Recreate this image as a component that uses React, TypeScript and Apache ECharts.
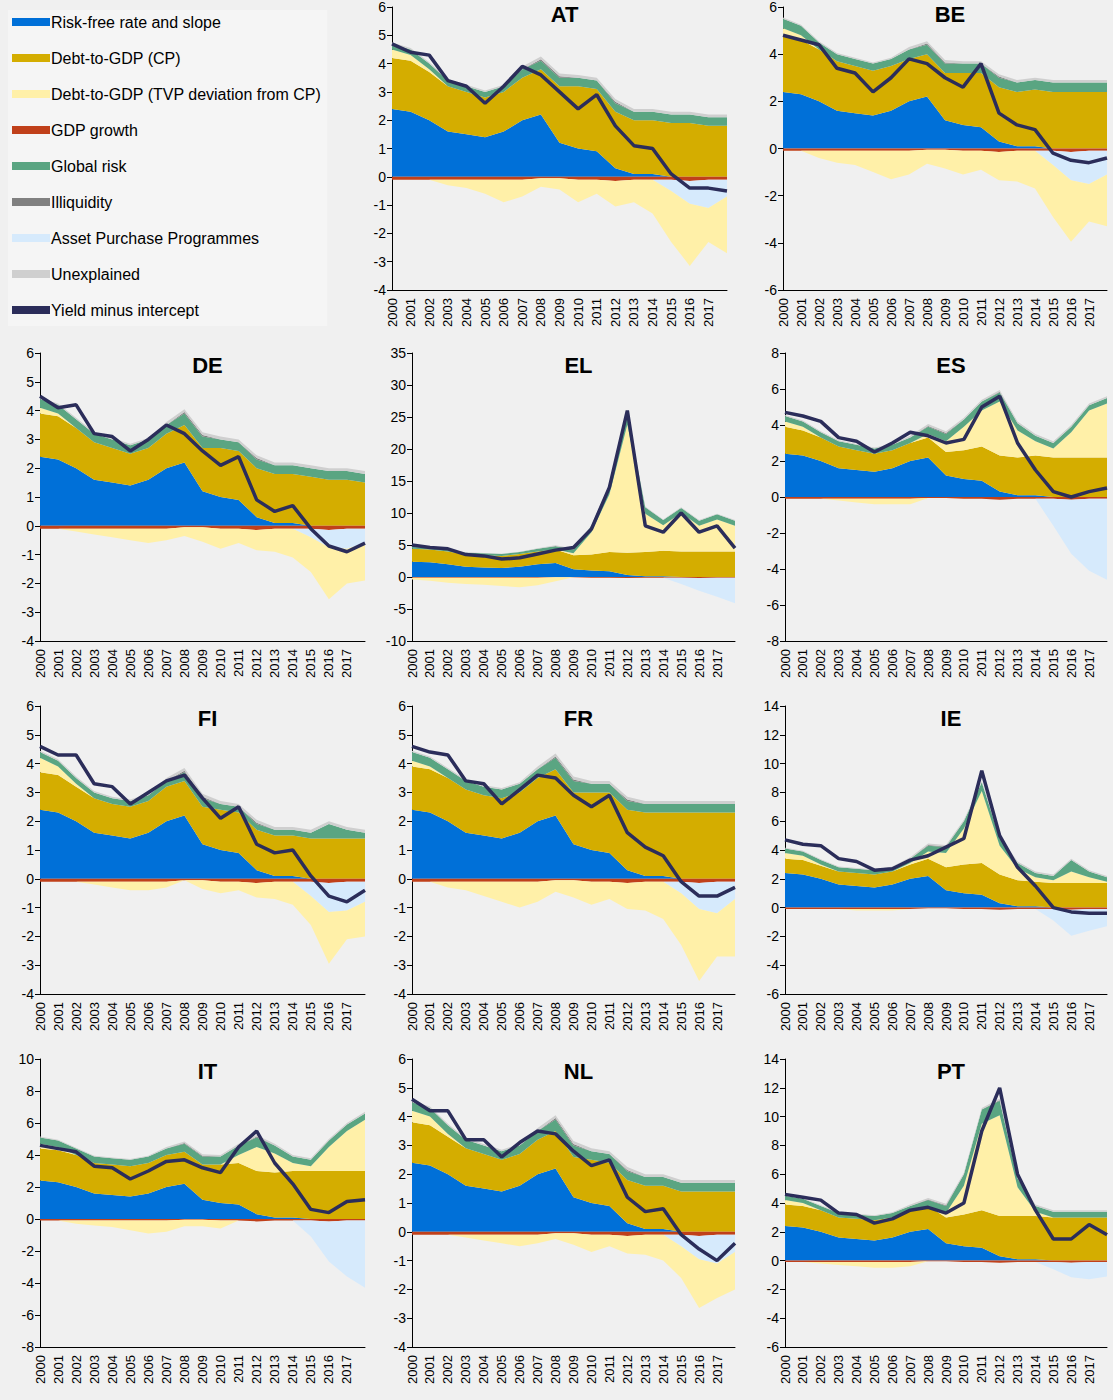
import React, { useEffect, useRef } from 'react';
import * as echarts from 'echarts';

const years = ['2000','2001','2002','2003','2004','2005','2006','2007','2008','2009','2010','2011','2012','2013','2014','2015','2016','2017','2018'];

const seriesNames = ['Risk-free rate and slope','Debt-to-GDP (CP)','Debt-to-GDP (TVP deviation from CP)','GDP growth','Global risk','Illiquidity','Asset Purchase Programmes','Unexplained','Yield minus intercept'];
const colors = ['#0070d8','#d4ad00','#fff0a8','#c0401a','#5aa582','#808080','#d6eafc','#cfcfcf','#2b2d5a'];

// common risk-free component
const riskFree = [2.4,2.3,2.0,1.6,1.5,1.4,1.6,2.0,2.2,1.2,1.0,0.9,0.3,0.1,0.1,0,0,0,0];
const gdpSmall = [-0.1,-0.1,-0.1,-0.1,-0.1,-0.1,-0.1,-0.1,-0.05,-0.05,-0.1,-0.1,-0.15,-0.1,-0.1,-0.1,-0.15,-0.1,-0.1];
const illiq = [0,0,0,0,0,0,0,0,0.05,0.05,0,0,0.05,0,0,0,0,0,0];
const unexplained = [0.05,0.05,0.05,0.05,0.05,0.05,0.05,0.1,0.1,0.1,0.1,0.1,0.1,0.1,0.1,0.1,0.1,0.1,0.1];

const countries = ['AT','BE','DE','EL','ES','FI','FR','IE','IT','NL','PT'];

const cp = {
  AT: [1.8,1.8,1.7,1.6,1.5,1.4,1.4,1.5,1.6,2.0,2.2,2.2,2.0,1.9,1.9,1.9,1.9,1.8,1.8],
  BE: [2.4,2.3,2.2,2.1,2.0,1.9,1.9,1.8,1.8,2.0,2.2,2.3,2.3,2.3,2.4,2.4,2.4,2.4,2.4],
  DE: [1.5,1.5,1.4,1.3,1.2,1.1,1.1,1.2,1.3,1.5,1.7,1.7,1.7,1.7,1.7,1.7,1.6,1.6,1.5],
  EL: [2.0,2.0,2.0,1.9,1.9,1.9,2.0,2.0,2.1,2.2,2.5,3.0,3.5,3.8,4.0,4.0,4.0,4.0,4.0],
  ES: [1.5,1.4,1.3,1.2,1.1,1.0,1.0,1.0,1.1,1.3,1.6,1.9,2.0,2.1,2.2,2.2,2.2,2.2,2.2],
  FI: [1.3,1.3,1.2,1.2,1.1,1.1,1.1,1.2,1.2,1.3,1.4,1.4,1.4,1.4,1.4,1.4,1.4,1.4,1.4],
  FR: [1.5,1.5,1.5,1.5,1.4,1.4,1.4,1.5,1.6,1.8,2.0,2.1,2.1,2.2,2.2,2.3,2.3,2.3,2.3],
  IE: [1.0,1.0,0.9,0.9,0.9,0.9,0.9,1.0,1.2,1.6,2.0,2.2,2.0,1.8,1.7,1.7,1.7,1.7,1.7],
  IT: [2.0,2.0,2.0,1.9,1.9,1.9,1.9,2.0,2.0,2.2,2.4,2.6,2.7,2.8,2.9,3.0,3.0,3.0,3.0],
  NL: [1.4,1.4,1.3,1.3,1.2,1.1,1.1,1.2,1.3,1.4,1.5,1.5,1.5,1.5,1.5,1.4,1.4,1.4,1.4],
  PT: [1.5,1.5,1.5,1.4,1.4,1.4,1.4,1.5,1.6,1.8,2.2,2.6,2.8,3.0,3.0,3.0,3.0,3.0,3.0],
};
const tvp = {
  AT: [0.3,0.2,0.1,-0.2,-0.3,-0.5,-0.8,-0.6,-0.3,-0.4,-0.8,-0.5,-0.9,-0.8,-1.2,-1.8,-2.2,-1.2,-2.0],
  BE: [0.3,0.2,-0.3,-0.5,-0.6,-0.9,-1.2,-1.0,-0.6,-0.8,-1.0,-0.8,-1.2,-1.3,-1.6,-2.2,-2.6,-1.6,-2.2],
  DE: [0.2,0.1,-0.1,-0.2,-0.3,-0.4,-0.5,-0.4,-0.3,-0.5,-0.7,-0.5,-0.7,-0.8,-1.0,-1.2,-1.8,-1.2,-1.3],
  EL: [-0.3,-0.5,-0.8,-1.0,-1.1,-1.3,-1.5,-1.2,-0.6,0.3,3.5,9.0,20.0,6.0,4.0,6.0,4.0,5.0,4.0],
  ES: [0.3,0.2,0,-0.1,-0.2,-0.3,-0.3,-0.3,0.2,0.6,1.3,2.0,3.0,1.5,0.8,0.5,1.4,2.6,3.0],
  FI: [0.5,0.3,0.1,-0.1,-0.2,-0.3,-0.3,-0.2,0,-0.3,-0.4,-0.3,-0.5,-0.6,-0.8,-1.0,-1.8,-1.0,-1.2],
  FR: [0.2,0.1,-0.2,-0.3,-0.5,-0.7,-0.9,-0.7,-0.4,-0.6,-0.8,-0.6,-0.9,-1.0,-1.3,-1.8,-2.5,-1.5,-2.0],
  IE: [0.4,0.3,0.1,0,-0.1,-0.1,-0.1,0.1,0.5,1.0,2.5,5.0,2.0,0.8,0.3,0.2,0.8,0.4,0.1],
  IT: [0.3,0.2,-0.2,-0.3,-0.4,-0.6,-0.8,-0.7,-0.4,-0.4,-0.5,0.5,1.5,1.2,0.5,0.3,1.5,2.5,3.2],
  NL: [0.4,0.3,0.1,-0.1,-0.2,-0.3,-0.4,-0.3,-0.2,-0.4,-0.6,-0.4,-0.6,-0.7,-0.9,-1.1,-1.7,-1.2,-1.3],
  PT: [0.3,0.2,-0.1,-0.2,-0.3,-0.4,-0.4,-0.3,0,0.3,2.0,6.0,7.0,2.0,0.3,0,0,0,0],
};
const globalRisk = {
  AT: [0.2,0.2,0.2,0.2,0.2,0.2,0.2,0.3,0.3,0.3,0.3,0.3,0.3,0.3,0.3,0.3,0.3,0.3,0.3],
  BE: [0.4,0.4,0.3,0.3,0.3,0.3,0.3,0.4,0.4,0.4,0.4,0.4,0.4,0.4,0.4,0.4,0.4,0.4,0.4],
  DE: [0.3,0.3,0.3,0.3,0.3,0.3,0.3,0.3,0.4,0.4,0.3,0.3,0.3,0.3,0.3,0.3,0.3,0.3,0.3],
  EL: [0.3,0.3,0.3,0.3,0.3,0.3,0.3,0.4,0.5,0.6,1.0,1.5,1.5,1.0,0.8,0.8,0.8,0.8,0.8],
  ES: [0.3,0.3,0.3,0.3,0.3,0.3,0.3,0.3,0.4,0.4,0.4,0.5,0.5,0.4,0.3,0.3,0.3,0.3,0.3],
  FI: [0.2,0.2,0.2,0.2,0.2,0.2,0.2,0.2,0.3,0.3,0.2,0.2,0.2,0.2,0.2,0.2,0.5,0.3,0.2],
  FR: [0.3,0.3,0.3,0.3,0.3,0.3,0.3,0.3,0.4,0.4,0.3,0.3,0.3,0.3,0.3,0.3,0.3,0.3,0.3],
  IE: [0.3,0.3,0.3,0.3,0.3,0.3,0.3,0.3,0.4,0.4,0.5,0.6,0.5,0.4,0.3,0.3,0.8,0.4,0.3],
  IT: [0.4,0.4,0.4,0.4,0.4,0.4,0.4,0.4,0.5,0.5,0.5,0.6,0.6,0.5,0.4,0.4,0.4,0.4,0.4],
  NL: [0.3,0.3,0.3,0.3,0.3,0.3,0.3,0.3,0.4,0.4,0.3,0.3,0.3,0.3,0.3,0.3,0.3,0.3,0.3],
  PT: [0.3,0.3,0.3,0.3,0.3,0.3,0.3,0.3,0.4,0.5,0.8,1.0,1.0,0.6,0.4,0.4,0.4,0.4,0.4],
};
const app = {
  AT: [0,0,0,0,0,0,0,0,0,0,0,0,0,0,0,-0.4,-0.8,-1.0,-0.6],
  BE: [0,0,0,0,0,0,0,0,0,0,0,0,0,0,0,-0.6,-1.2,-1.4,-1.0],
  DE: [0,0,0,0,0,0,0,0,0,0,0,0,0,0,0,-0.3,-0.6,-0.7,-0.5],
  EL: [0,0,0,0,0,0,0,0,0,0,0,0,0,0,0,-1.0,-2.0,-3.0,-4.0],
  ES: [0,0,0,0,0,0,0,0,0,0,0,0,0,0,0,-1.5,-3.0,-4.0,-4.5],
  FI: [0,0,0,0,0,0,0,0,0,0,0,0,0,0,0,-0.5,-1.0,-1.0,-0.7],
  FR: [0,0,0,0,0,0,0,0,0,0,0,0,0,0,0,-0.4,-0.9,-1.1,-0.6],
  IE: [0,0,0,0,0,0,0,0,0,0,0,0,0,0,0,-0.8,-1.8,-1.5,-1.2],
  IT: [0,0,0,0,0,0,0,0,0,0,0,0,0,0,0,-1.0,-2.5,-3.5,-4.2],
  NL: [0,0,0,0,0,0,0,0,0,0,0,0,0,0,0,-0.4,-0.8,-1.0,-0.6],
  PT: [0,0,0,0,0,0,0,0,0,0,0,0,0,0,0,-0.5,-1.0,-1.2,-1.0],
};
const yieldLine = {
  AT: [4.7,4.4,4.3,3.4,3.2,2.6,3.2,3.9,3.6,3.0,2.4,2.9,1.8,1.1,1.0,0.1,-0.4,-0.4,-0.5],
  BE: [4.8,4.6,4.4,3.4,3.2,2.4,3.0,3.8,3.6,3.0,2.6,3.6,1.5,1.0,0.8,-0.2,-0.5,-0.6,-0.4],
  DE: [4.5,4.1,4.2,3.2,3.1,2.6,3.0,3.5,3.2,2.6,2.1,2.4,0.9,0.5,0.7,-0.1,-0.7,-0.9,-0.6],
  EL: [5.0,4.6,4.4,3.5,3.3,2.8,3.0,3.6,4.2,4.6,7.5,14,26,8,7,10,7,8,4.5],
  ES: [4.7,4.5,4.2,3.3,3.1,2.5,3.0,3.6,3.4,3.0,3.2,5.0,5.6,3.0,1.5,0.3,0,0.3,0.5],
  FI: [4.6,4.3,4.3,3.3,3.2,2.6,3.0,3.4,3.6,2.8,2.1,2.5,1.2,0.9,1.0,0.1,-0.6,-0.8,-0.4],
  FR: [4.6,4.4,4.3,3.4,3.3,2.6,3.1,3.6,3.5,2.9,2.5,2.9,1.6,1.1,0.8,-0.1,-0.6,-0.6,-0.3],
  IE: [4.7,4.4,4.3,3.4,3.2,2.6,2.7,3.3,3.6,4.2,4.8,9.5,5.0,2.8,1.5,0.0,-0.3,-0.4,-0.4],
  IT: [4.6,4.4,4.2,3.3,3.2,2.5,3.0,3.6,3.7,3.2,2.9,4.5,5.5,3.5,2.2,0.6,0.4,1.1,1.2],
  NL: [4.6,4.2,4.2,3.2,3.2,2.6,3.1,3.5,3.4,2.8,2.3,2.5,1.2,0.7,0.8,-0.1,-0.6,-1.0,-0.4],
  PT: [4.6,4.4,4.2,3.3,3.2,2.6,2.9,3.5,3.7,3.3,4.0,9.0,12,6.0,3.5,1.5,1.5,2.5,1.8],
};
const yRange = {
  AT: [-4, 6, 1], BE: [-6, 6, 2], DE: [-4, 6, 1], EL: [-10, 35, 5], ES: [-8, 8, 2], FI: [-4, 6, 1],
  FR: [-4, 6, 1], IE: [-6, 14, 2], IT: [-8, 10, 2], NL: [-4, 6, 1], PT: [-6, 14, 2],
};

const App: React.FC = () => {
  const chartRef = useRef<HTMLDivElement>(null);

  useEffect(() => {
    document.body.style.margin = '0';
    const chart = echarts.init(chartRef.current!, null, { renderer: 'svg' });
    const grids: any[] = [], xAxes: any[] = [], yAxes: any[] = [], series: any[] = [], titles: any[] = [];
    countries.forEach((c, i) => {
      const slot = i + 1;
      const col = slot % 3, row = Math.floor(slot / 3);
      const left = row === 0 ? [0, 392, 783][col] : [40, 412, 785][col];
      const width = row === 0 ? [0, 335, 324][col] : [325, 323, 322][col];
      const top = [2, 353, 706, 1059][row];
      grids.push({ left, top, width, height: 288 });
      xAxes.push({
        type: 'category', gridIndex: i, data: years, boundaryGap: false,
        axisLine: { onZero: false, lineStyle: { color: '#000' } }, axisTick: { show: false },
        axisLabel: { rotate: 90, interval: 0, color: '#000', fontSize: 13, fontFamily: 'Liberation Sans', formatter: (v: string) => (v === '2018' ? '' : v) },
      });
      const [mn, mx, iv] = yRange[c];
      yAxes.push({
        type: 'value', gridIndex: i, min: mn, max: mx, interval: iv, splitLine: { show: false },
        axisLine: { show: true, lineStyle: { color: '#000' } }, axisTick: { show: true, length: 5 },
        axisLabel: { color: '#000', fontSize: 14, margin: 6, fontFamily: 'Liberation Sans' },
      });
      titles.push({ text: c, left: left + width / 2, top: top - 4, textAlign: 'center',
        textStyle: { fontSize: 22, fontWeight: 'bold', color: '#000', fontFamily: 'Liberation Sans' } });
      const area = (idx: number, data: number[], stack = 's' + i) => ({
        name: seriesNames[idx], type: 'line', xAxisIndex: i, yAxisIndex: i, stack, data,
        symbol: 'none', lineStyle: { width: 0 }, areaStyle: { color: colors[idx], opacity: 1 }, itemStyle: { color: colors[idx] },
      });
      const tvpPos = tvp[c].map((v) => Math.max(v, 0));
      const tvpNeg = tvp[c].map((v) => Math.min(v, 0));
      series.push(
        area(0, riskFree), area(1, cp[c]), area(2, tvpPos), area(4, globalRisk[c]), area(5, illiq), area(7, unexplained),
        area(3, gdpSmall, 'n' + i), area(6, app[c], 'n' + i), area(2, tvpNeg, 'n' + i),
        { name: seriesNames[8], type: 'line', xAxisIndex: i, yAxisIndex: i, data: yieldLine[c], symbol: 'none',
          lineStyle: { width: 3.5, color: colors[8] }, itemStyle: { color: colors[8] } },
      );
    });
    chart.setOption({
      animation: false,
      backgroundColor: '#f0f0f0',
      title: titles,
      grid: grids, xAxis: xAxes, yAxis: yAxes, series,
      legend: {
        data: seriesNames, orient: 'vertical', left: 8, top: 10, itemGap: 20, itemWidth: 38, itemHeight: 8,
        icon: 'rect', backgroundColor: '#f5f5f5', padding: [4, 6, 8, 4],
        textStyle: { fontSize: 16, color: '#000', fontFamily: 'Liberation Sans', padding: [0, 0, 0, -4] },
      },
    });
    return () => chart.dispose();
  }, []);

  return <div ref={chartRef} style={{ width: '1113px', height: '1400px' }} />;
};

export default App;
